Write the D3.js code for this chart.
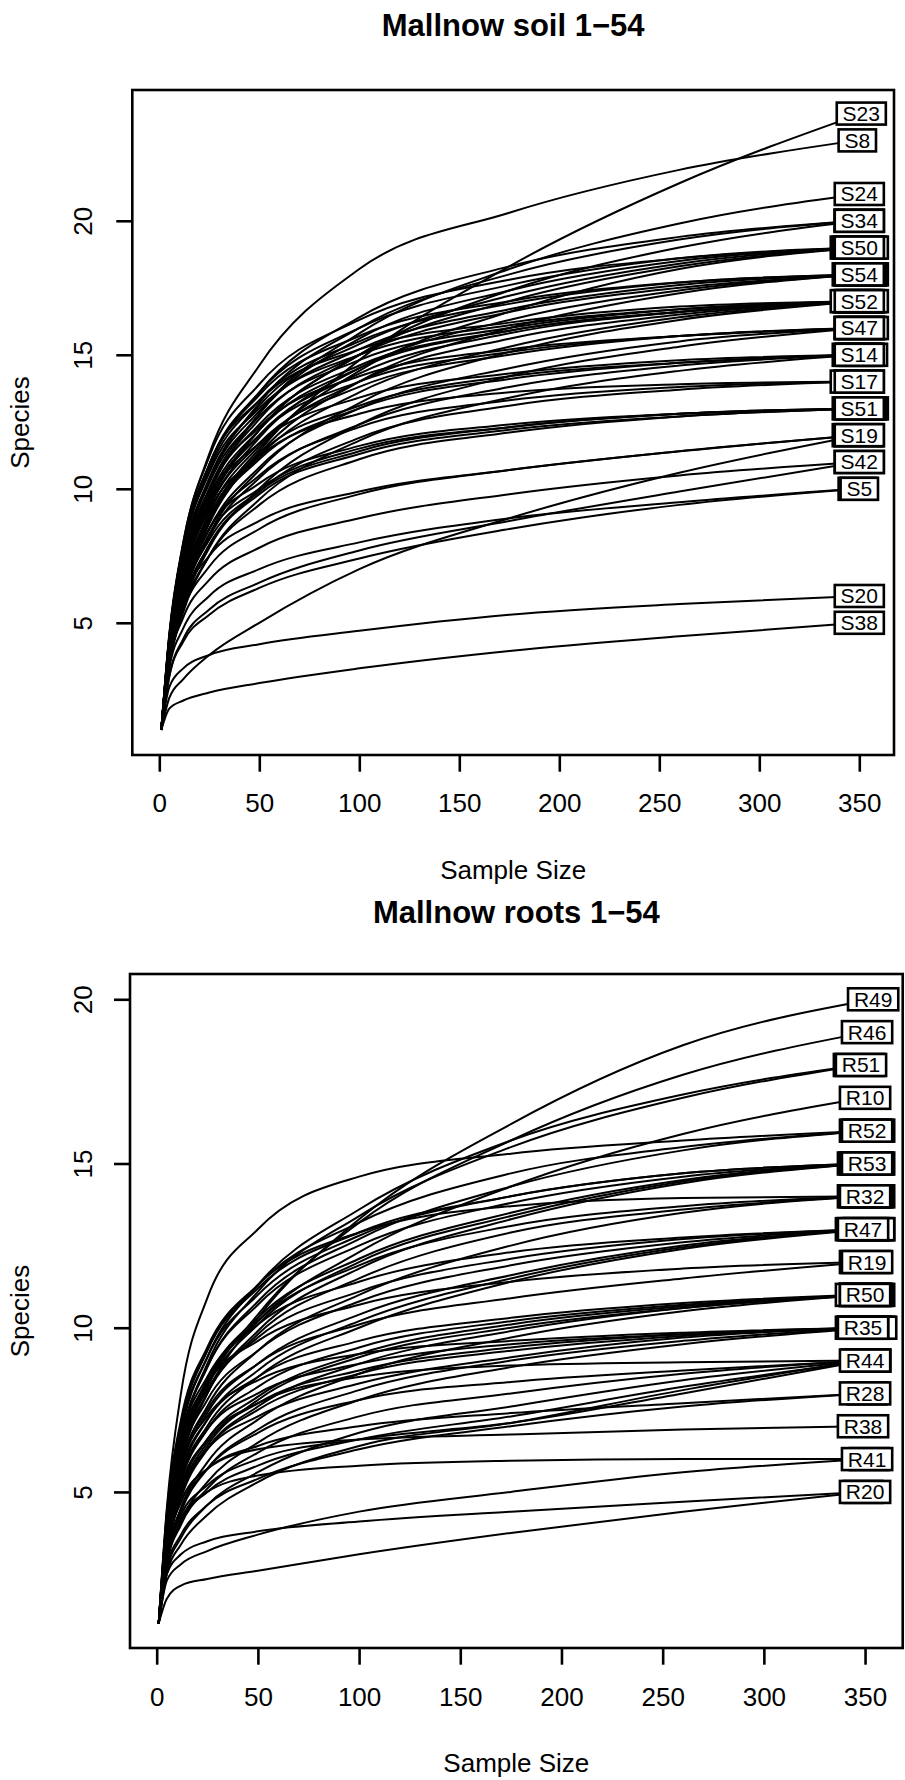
<!DOCTYPE html>
<html>
<head>
<meta charset="utf-8">
<script src="https://cdn.jsdelivr.net/npm/d3@7"></script>
<style>
  html, body { margin: 0; padding: 0; background: #fff; }
  svg { display: block; font-family: "Liberation Sans", Arial, Helvetica, sans-serif; }
</style>
</head>
<body>
<svg id="chart" width="905" height="1780"></svg>
<script>
// Rarefaction curves: expected species richness at a set of sample sizes.
// Each curve is tabulated at these sample sizes; its last point sits at the sample's own size N.
const sampleSteps = [1, 5, 12, 25, 50, 100, 175, 260];
const xTickValues = [0, 50, 100, 150, 200, 250, 300, 350];
const yTickValues = [5, 10, 15, 20];

// ---- soil samples ----
const soilNames = [
  "S1","S2","S3","S4","S5","S6","S7","S8","S9","S10",
  "S11","S12","S13","S14","S15","S16","S17","S18","S19","S20",
  "S21","S22","S23","S24","S25","S26","S27","S28","S29","S30",
  "S31","S32","S33","S34","S35","S36","S37","S38","S39","S40",
  "S41","S42","S43","S44","S45","S46","S47","S48","S49","S50",
  "S51","S52","S53","S54"
];
const soilDepth = [
  349, 351, 348, 350, 350, 348, 352, 349, 351, 350,
  352, 349, 349, 350, 350, 348, 350, 350, 350, 350,
  349, 351, 351, 350, 352, 348, 350, 352, 352, 351,
  350, 348, 350, 350, 351, 350, 349, 350, 352, 351,
  350, 350, 351, 352, 349, 350, 350, 349, 350, 350,
  350, 350, 351, 350
];
const soilRichness = [
  [1, 3.3, 4.8, 6.0, 7.0, 8.0, 8.9, 9.5, 10],
  [1, 4.1, 7.0, 9.7, 12.2, 14.5, 15.9, 16.6, 17],
  [1, 3.9, 6.5, 8.9, 11.1, 13.0, 14.1, 14.7, 15],
  [1, 3.7, 6.0, 8.1, 9.9, 11.4, 12.3, 12.8, 13],
  [1, 3.0, 4.3, 5.3, 6.3, 7.4, 8.5, 9.4, 10],
  [1, 4.3, 7.4, 10.2, 12.7, 14.8, 16.0, 16.7, 17],
  [1, 3.8, 6.3, 8.8, 11.2, 13.6, 15.3, 16.4, 17],
  [1, 4.6, 8.0, 11.3, 14.6, 18.2, 20.3, 21.9, 23],
  [1, 3.6, 5.9, 8.2, 10.4, 12.4, 13.8, 14.6, 15],
  [1, 4.0, 6.7, 9.3, 11.7, 13.8, 15.0, 15.7, 16],
  [1, 4.2, 7.1, 9.6, 11.7, 13.4, 14.3, 14.8, 15],
  [1, 3.4, 5.4, 7.5, 9.6, 11.8, 13.4, 14.4, 15],
  [1, 3.9, 5.9, 7.5, 8.8, 9.9, 10.7, 11.4, 12],
  [1, 4.0, 6.6, 9.0, 11.3, 13.1, 14.2, 14.7, 15],
  [1, 3.8, 6.2, 8.5, 10.5, 12.3, 13.3, 13.8, 14],
  [1, 3.5, 5.7, 7.9, 9.9, 11.9, 13.1, 13.7, 14],
  [1, 4.1, 6.8, 9.2, 11.2, 12.8, 13.6, 13.9, 14],
  [1, 3.7, 5.5, 7.1, 8.5, 9.8, 10.7, 11.4, 12],
  [1, 2.2, 2.9, 3.8, 5.0, 7.0, 8.9, 10.6, 12],
  [1, 2.6, 3.3, 3.8, 4.2, 4.7, 5.3, 5.7, 6],
  [1, 4.4, 7.7, 10.6, 13.0, 15.0, 16.1, 16.7, 17],
  [1, 3.7, 6.1, 8.5, 10.8, 13.0, 14.5, 15.5, 16],
  [1, 3.9, 6.3, 8.8, 11.4, 14.8, 18.3, 21.4, 24],
  [1, 4.2, 7.0, 9.8, 12.8, 15.8, 18.2, 19.9, 21],
  [1, 4.3, 7.3, 10.0, 12.3, 14.2, 15.2, 15.7, 16],
  [1, 4.2, 7.2, 10.0, 12.8, 15.6, 17.4, 18.5, 19],
  [1, 3.9, 6.5, 9.1, 11.6, 14.0, 15.6, 16.5, 17],
  [1, 3.4, 5.5, 7.5, 9.4, 11.1, 12.1, 12.7, 13],
  [1, 4.3, 7.4, 10.3, 12.9, 15.2, 16.7, 17.6, 18],
  [1, 4.4, 7.8, 10.9, 13.6, 16.0, 17.6, 18.6, 19],
  [1, 4.3, 7.4, 10.3, 13.2, 16.0, 18.0, 19.3, 20],
  [1, 4.2, 7.2, 9.9, 12.4, 14.6, 15.9, 16.6, 17],
  [1, 4.1, 6.8, 9.4, 12.2, 15.0, 17.4, 19.0, 20],
  [1, 4.4, 7.7, 10.8, 13.6, 16.4, 18.3, 19.4, 20],
  [1, 3.9, 6.3, 8.5, 10.2, 11.6, 12.4, 12.8, 13],
  [1, 4.0, 6.7, 9.3, 11.9, 14.5, 16.3, 17.4, 18],
  [1, 3.6, 5.8, 7.9, 9.8, 11.3, 12.2, 12.7, 13],
  [1, 1.8, 2.1, 2.4, 2.75, 3.3, 3.95, 4.5, 5],
  [1, 3.9, 6.4, 8.9, 11.5, 14.4, 16.6, 18.2, 19],
  [1, 3.6, 5.9, 8.3, 10.7, 13.2, 15.1, 16.3, 17],
  [1, 3.5, 5.2, 6.6, 7.8, 8.9, 9.8, 10.5, 11],
  [1, 3.0, 4.4, 5.5, 6.5, 7.7, 8.8, 9.9, 11],
  [1, 4.4, 7.7, 10.7, 13.3, 15.5, 16.9, 17.7, 18],
  [1, 4.0, 6.8, 9.5, 12.0, 14.3, 15.8, 16.6, 17],
  [1, 4.3, 7.5, 10.4, 13.1, 15.4, 17.2, 18.4, 19],
  [1, 3.5, 5.6, 7.8, 10.0, 12.4, 14.2, 15.3, 16],
  [1, 4.1, 6.9, 9.6, 12.0, 14.0, 15.1, 15.7, 16],
  [1, 3.8, 6.2, 8.7, 11.3, 14.0, 16.0, 17.3, 18],
  [1, 4.0, 6.8, 9.5, 12.2, 15.0, 17.0, 18.3, 19],
  [1, 4.5, 8.0, 11.2, 13.9, 16.3, 17.8, 18.6, 19],
  [1, 3.8, 6.1, 8.3, 10.0, 11.5, 12.3, 12.8, 13],
  [1, 4.5, 7.9, 10.9, 13.3, 15.2, 16.2, 16.8, 17],
  [1, 4.2, 7.1, 9.9, 12.6, 15.0, 16.6, 17.5, 18],
  [1, 4.5, 7.9, 10.9, 13.5, 15.7, 17.0, 17.7, 18]
];

// ---- root samples ----
const rootNames = [
  "R1","R2","R3","R4","R5","R6","R7","R8","R9","R10",
  "R11","R12","R13","R14","R15","R16","R17","R18","R19","R20",
  "R21","R22","R23","R24","R25","R26","R27","R28","R29","R30",
  "R31","R32","R33","R34","R35","R36","R37","R38","R39","R40",
  "R41","R42","R43","R44","R45","R46","R47","R48","R49","R50",
  "R51","R52","R53"
];
const rootDepth = [
  350, 352, 349, 351, 353, 348, 351, 352, 349, 350,
  351, 348, 352, 350, 353, 349, 350, 350, 351, 350,
  352, 348, 351, 350, 349, 352, 351, 350, 352, 349,
  351, 350, 352, 349, 349, 351, 350, 349, 351, 352,
  351, 350, 348, 350, 352, 351, 349, 347, 354, 350,
  348, 351, 351
];
const rootRichness = [
  [1, 3.4, 5.2, 6.6, 7.7, 8.5, 8.85, 8.95, 9],
  [1, 3.0, 4.5, 5.7, 6.8, 7.8, 8.35, 8.7, 9],
  [1, 2.8, 4.0, 5.1, 6.2, 7.3, 8.0, 8.6, 9],
  [1, 2.6, 3.6, 4.6, 5.6, 6.8, 7.6, 8.4, 9],
  [1, 2.9, 4.1, 5.0, 5.8, 6.6, 7.3, 8.2, 9],
  [1, 2.5, 3.4, 4.3, 5.3, 6.4, 7.1, 8.1, 9],
  [1, 2.7, 3.7, 4.6, 5.4, 6.3, 7.0, 7.6, 8],
  [1, 3.0, 4.2, 5.0, 5.5, 5.8, 5.95, 6.0, 6],
  [1, 2.5, 3.1, 3.5, 3.8, 4.1, 4.4, 4.7, 5],
  [1, 3.8, 6.2, 8.3, 10.2, 12.3, 14.3, 15.9, 17],
  [1, 3.5, 5.4, 6.9, 8.0, 8.9, 9.5, 9.8, 10],
  [1, 3.2, 4.9, 6.3, 7.5, 8.6, 9.3, 9.75, 10],
  [1, 3.0, 4.4, 5.7, 6.9, 8.1, 9.0, 9.6, 10],
  [1, 3.7, 5.8, 7.3, 8.4, 9.2, 9.6, 9.85, 10],
  [1, 2.8, 4.1, 5.3, 6.5, 7.8, 8.8, 9.5, 10],
  [1, 3.3, 5.0, 6.5, 7.7, 8.7, 9.4, 9.8, 10],
  [1, 3.4, 5.3, 6.9, 8.2, 9.4, 10.2, 10.7, 11],
  [1, 4.0, 6.5, 8.3, 9.6, 10.7, 11.4, 11.8, 12],
  [1, 3.7, 5.8, 7.5, 8.9, 10.1, 10.9, 11.5, 12],
  [1, 1.75, 2.15, 2.35, 2.6, 3.1, 3.75, 4.4, 5],
  [1, 3.1, 4.8, 6.3, 7.6, 8.9, 9.9, 10.6, 11],
  [1, 3.6, 5.6, 7.2, 8.5, 9.6, 10.3, 10.75, 11],
  [1, 3.0, 4.5, 5.9, 7.2, 8.6, 9.7, 10.5, 11],
  [1, 3.3, 5.1, 6.6, 7.9, 9.2, 10.1, 10.65, 11],
  [1, 3.9, 6.3, 8.1, 9.7, 11.1, 12.1, 12.7, 13],
  [1, 3.6, 5.7, 7.4, 8.9, 10.4, 11.6, 12.5, 13],
  [1, 4.1, 6.6, 8.5, 10.1, 11.4, 12.3, 12.75, 13],
  [1, 3.3, 4.7, 5.7, 6.4, 7.0, 7.4, 7.7, 8],
  [1, 4.4, 7.2, 9.4, 11.3, 12.9, 13.7, 13.95, 14],
  [1, 3.8, 6.1, 8.0, 9.8, 11.5, 12.9, 13.6, 14],
  [1, 3.6, 5.8, 7.6, 9.3, 11.0, 12.5, 13.5, 14],
  [1, 4.0, 6.4, 8.4, 10.2, 11.9, 13.1, 13.7, 14],
  [1, 4.2, 6.9, 9.1, 11.0, 12.8, 14.0, 14.7, 15],
  [1, 3.9, 6.3, 8.4, 10.3, 12.1, 13.5, 14.5, 15],
  [1, 3.4, 5.1, 6.3, 7.3, 8.3, 9.1, 9.7, 10],
  [1, 4.0, 6.6, 8.8, 10.7, 12.5, 13.8, 14.6, 15],
  [1, 3.7, 6.0, 8.0, 9.9, 11.8, 13.3, 14.4, 15],
  [1, 3.2, 4.7, 5.7, 6.3, 6.6, 6.75, 6.9, 7],
  [1, 4.3, 7.1, 9.3, 11.2, 12.9, 14.0, 14.7, 15],
  [1, 3.4, 5.4, 7.0, 8.5, 10.0, 11.4, 12.4, 13],
  [1, 2.3, 2.8, 3.2, 3.7, 4.4, 5.0, 5.6, 6],
  [1, 4.5, 8.0, 10.9, 13.0, 14.6, 15.3, 15.7, 16],
  [1, 3.8, 6.0, 7.8, 9.3, 10.8, 11.9, 12.6, 13],
  [1, 3.1, 4.3, 5.2, 6.0, 6.6, 7.1, 8.0, 9],
  [1, 4.0, 6.6, 8.8, 10.8, 12.7, 14.3, 15.4, 16],
  [1, 3.8, 6.1, 8.2, 10.4, 13.2, 15.7, 17.7, 19],
  [1, 3.5, 5.5, 7.2, 8.7, 10.2, 11.5, 12.45, 13],
  [1, 4.1, 6.8, 9.1, 11.3, 13.6, 15.7, 17.1, 18],
  [1, 3.7, 5.9, 8.0, 10.3, 13.3, 16.2, 18.6, 20],
  [1, 3.2, 4.9, 6.4, 7.8, 9.1, 10.0, 10.6, 11],
  [1, 4.0, 6.6, 8.9, 11.1, 13.4, 15.5, 17.0, 18],
  [1, 4.2, 7.0, 9.3, 11.3, 13.2, 14.7, 15.5, 16],
  [1, 3.8, 6.2, 8.2, 10.1, 12.0, 13.4, 14.45, 15]
];

const svg = d3.select("#chart");

// width of a label string at the label font size
const measurer = svg.append("text").style("font-size", "21px").attr("x", -1000).attr("y", -1000);
function labelWidth(s) {
  measurer.text(s);
  return measurer.node().getComputedTextLength();
}

function drawPanel(p) {
  const g = svg.append("g");
  const x = d3.scaleLinear().domain(p.xDomain).range([p.left, p.right]);
  const y = d3.scaleLinear().domain(p.yDomain).range([p.bottom, p.top]);

  // title
  g.append("text")
    .attr("x", (p.left + p.right) / 2).attr("y", p.titleY)
    .attr("text-anchor", "middle")
    .style("font-size", "31px").style("font-weight", "bold")
    .text(p.title);

  // curves
  const line = d3.line()
    .x(d => x(d[0])).y(d => y(d[1]))
    .curve(d3.curveMonotoneX);
  const curves = p.names.map((name, i) => {
    const pts = p.richness[i].map((v, k) => [k < sampleSteps.length ? sampleSteps[k] : p.depth[i], v]);
    return { name, n: p.depth[i], s: p.richness[i][p.richness[i].length - 1], pts };
  });
  g.append("g")
    .selectAll("path").data(curves).join("path")
    .attr("d", d => line(d.pts))
    .attr("fill", "none").attr("stroke", "#000").attr("stroke-width", 2)
    .attr("stroke-linejoin", "round");

  // label boxes at the end of each curve, drawn in sample order;
  // a label whose box is overlaid by a later one only shows its frame
  const boxes = curves.map(c => {
    const w = labelWidth(c.name) + 11.7, h = 22;
    return { name: c.name, cx: x(c.n), cy: y(c.s), w, h };
  });
  const lab = g.append("g");
  boxes.forEach((b, i) => {
    lab.append("rect")
      .attr("x", b.cx - b.w / 2).attr("y", b.cy - b.h / 2)
      .attr("width", b.w).attr("height", b.h)
      .attr("fill", "#fff").attr("stroke", "#000").attr("stroke-width", 2.6);
    const covered = boxes.slice(i + 1).some(o =>
      Math.abs(o.cy - b.cy) < b.h * 0.5 && Math.abs(o.cx - b.cx) < (o.w + b.w) / 4);
    if (!covered) {
      lab.append("text")
        .attr("x", b.cx).attr("y", b.cy + 7.5)
        .attr("text-anchor", "middle")
        .style("font-size", "21px")
        .text(b.name);
    }
  });

  // plot box
  g.append("rect")
    .attr("x", p.left).attr("y", p.top)
    .attr("width", p.right - p.left).attr("height", p.bottom - p.top)
    .attr("fill", "none").attr("stroke", "#000").attr("stroke-width", 2.6);

  // x axis
  const xa = g.append("g").attr("transform", `translate(0,${p.bottom})`)
    .call(d3.axisBottom(x).tickValues(xTickValues).tickSize(16.7).tickPadding(0).tickFormat(d3.format("d")));
  xa.select(".domain").remove();
  xa.selectAll(".tick line").attr("stroke", "#000").attr("stroke-width", 2.6);
  xa.selectAll(".tick text")
    .attr("y", p.xLabelBase - p.bottom).attr("dy", null)
    .style("font-size", "26px").style("font-family", "inherit").attr("fill", "#000");

  // y axis
  const ya = g.append("g").attr("transform", `translate(${p.left},0)`)
    .call(d3.axisLeft(y).tickValues(yTickValues).tickSize(16).tickFormat(d3.format("d")));
  ya.select(".domain").remove();
  ya.selectAll(".tick line").attr("stroke", "#000").attr("stroke-width", 2.6);
  ya.selectAll(".tick text")
    .attr("x", null).attr("dy", null)
    .attr("text-anchor", "middle")
    .attr("transform", `translate(${p.yLabelX - p.left},0) rotate(-90)`)
    .attr("y", 9.3)
    .style("font-size", "26px").style("font-family", "inherit").attr("fill", "#000");

  // axis titles
  g.append("text")
    .attr("x", (p.left + p.right) / 2).attr("y", p.xTitleBase)
    .attr("text-anchor", "middle").style("font-size", "26px")
    .text("Sample Size");
  g.append("text")
    .attr("transform", `translate(${p.yTitleX},${(p.top + p.bottom) / 2}) rotate(-90)`)
    .attr("text-anchor", "middle").style("font-size", "26px")
    .text("Species");
}

drawPanel({
  title: "Mallnow soil 1\u221254",
  names: soilNames, depth: soilDepth, richness: soilRichness,
  left: 132.3, right: 894, top: 90, bottom: 755,
  xDomain: [-13.5, 367.35], yDomain: [0.067, 24.88],
  titleY: 36, xLabelBase: 812, xTitleBase: 879, yLabelX: 83, yTitleX: 29
});

drawPanel({
  title: "Mallnow roots 1\u221254",
  names: rootNames, depth: rootDepth, richness: rootRichness,
  left: 130, right: 902.7, top: 974, bottom: 1648,
  xDomain: [-13.19, 368.6], yDomain: [0.248, 20.77],
  titleY: 923, xLabelBase: 1706, xTitleBase: 1772, yLabelX: 83, yTitleX: 29
});

measurer.remove();
</script>
</body>
</html>
